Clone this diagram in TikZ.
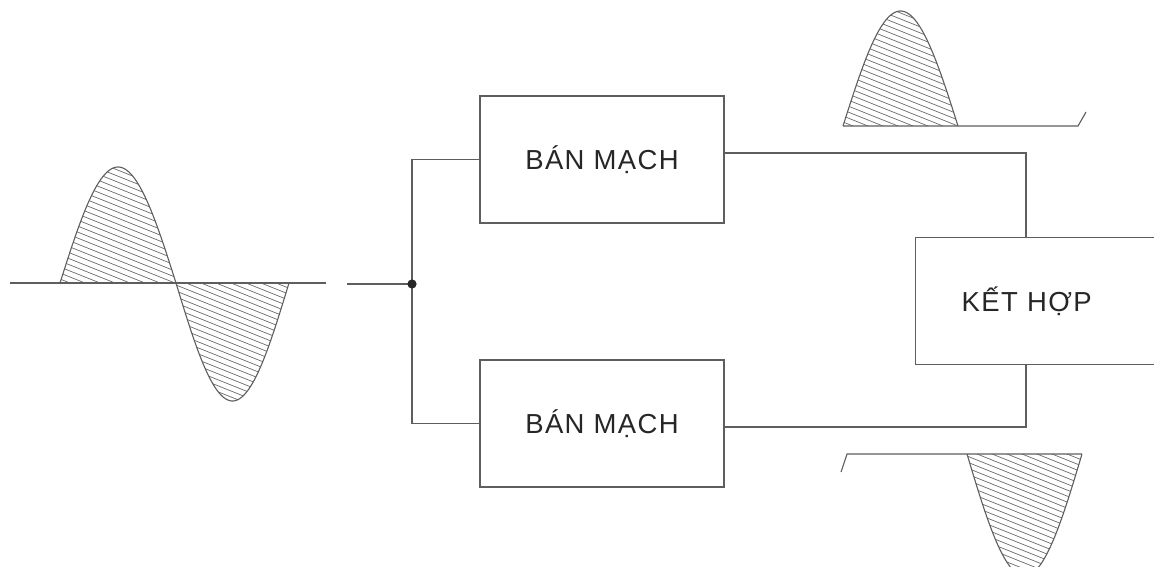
\documentclass[tikz,border=0pt]{standalone}
\usepackage{fontspec}
\setmainfont{Liberation Sans}
\usetikzlibrary{calc}
\definecolor{linegray}{HTML}{5E5E5E}
\definecolor{hatchgray}{HTML}{6A6A6A}
\newcommand\labelfont{\fontsize{27.5}{32}\selectfont\addfontfeature{LetterSpace=5}}
\tikzset{
  wire/.style={draw=linegray, line width=1.3pt},
  block/.style={draw=linegray, line width=1.4pt, minimum width=244pt,
    minimum height=127pt, inner sep=0pt, font=\labelfont, text=black!85},
  hatch/.style={draw=hatchgray, line width=0.7pt},
  wave/.style={draw=linegray, line width=1.1pt},
}
% half sine wave with diagonal hatching:
% #1 left x, #2 width, #3 baseline y, #4 height (positive = up)
\newcommand\hatchedhump[4]{%
  \begin{scope}
    \clip plot[variable=\t, domain=0:1, samples=60]
      ({#1+#2*\t},{#3-#4*sin(180*\t)}) -- cycle;
    \foreach \k in {-75,...,42}
      \draw[hatch] ({#1-20},{#3+6*\k}) -- ++({#2+40},{0.4*(#2+40)});
  \end{scope}
  \draw[wave] plot[variable=\t, domain=0:1, samples=60]
      ({#1+#2*\t},{#3-#4*sin(180*\t)});
}
\begin{document}
\begin{tikzpicture}[x=1pt, y=-1pt]
  \useasboundingbox (0,0) rectangle (1154,567);
  \clip (0,0) rectangle (1154,567);

  % input waveform
  \hatchedhump{60}{116}{283}{116}
  \hatchedhump{176}{113}{283}{-118}
  \draw[wave] (10,283) -- (326,283);

  % blocks
  \node[block] (b1) at (602,159.5) {BÁN MẠCH};
  \node[block] (b2) at (602,423.5) {BÁN MẠCH};
  \node[block, anchor=north west, minimum width=0pt, text width=158pt,
        inner xsep=46pt, align=left] (kh) at (915,237) {KẾT HỢP};

  % wiring
  \coordinate (in) at (347,284);
  \coordinate (j) at (412,284);
  \draw[wire] (in) -- (j);
  \draw[wire] (j) |- (b1.west);
  \draw[wire] (j) |- (b2.west);
  \fill[black!85] (j) circle (4.6pt);
  \draw[wire] ($(b1.east)+(0,-6.5)$) -| ($(kh.north west)+(111,0)$);
  \draw[wire] ($(b2.east)+(0,3.5)$) -| ($(kh.south west)+(111,0)$);

  % positive half output
  \hatchedhump{843}{115}{126}{115}
  \draw[wave] (843,126) -- (1078,126) -- (1086,112);

  % negative half output
  \hatchedhump{967}{115}{454}{-122}
  \draw[wave] (841,472) -- (847,454) -- (1082,454);
\end{tikzpicture}
\end{document}
